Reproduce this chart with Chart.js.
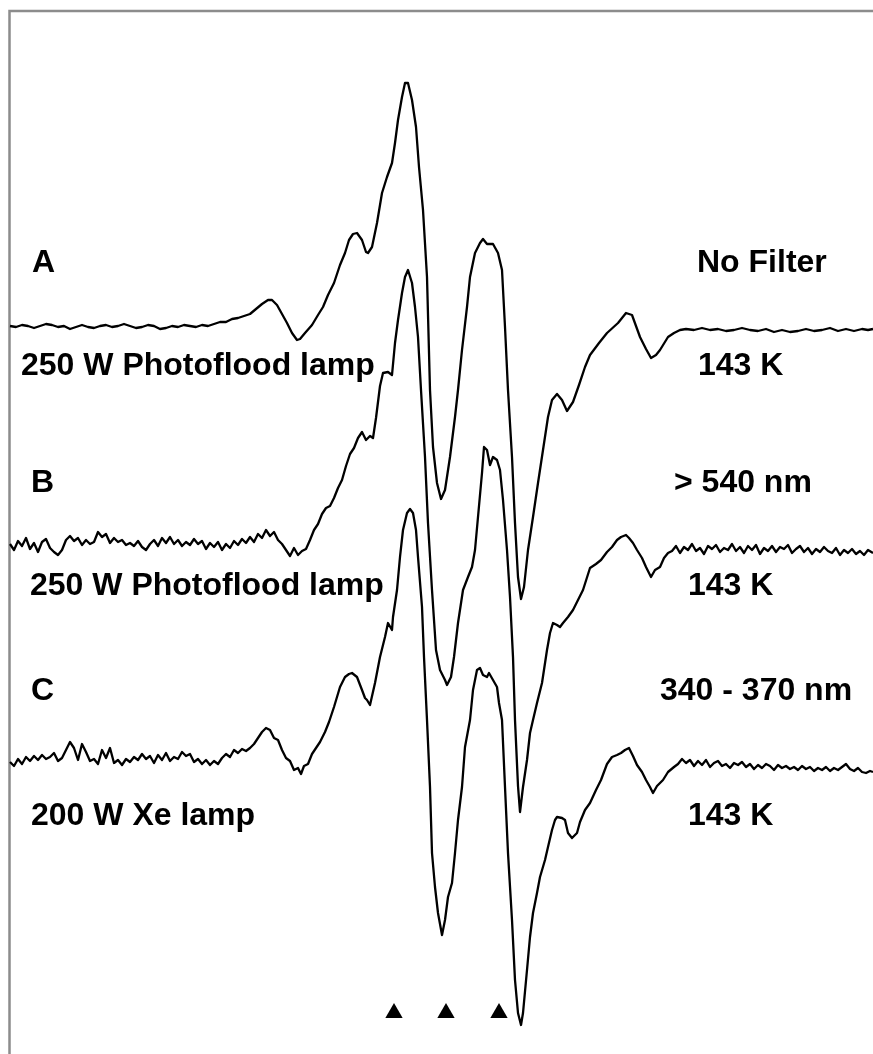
<!DOCTYPE html>
<html lang="en">
<head>
<meta charset="UTF-8">
<title>EPR spectra</title>
<script src="https://cdn.jsdelivr.net/npm/chart.js"></script>
<style>
  html, body { margin: 0; padding: 0; background: #fff; overflow: hidden; }
</style>
</head>
<body>
<canvas id="myChart" width="900" height="1100"></canvas>
<script>
// [field (relative), signal (arb. units, baseline = 0)]
const traceA = [
  [10,1],[16,0],[22,2],[28,1],[34,-1],[40,1],[46,3],[52,2],[58,0],[64,1],[70,-2],[76,0],[82,2],[88,0],
  [94,-1],[100,1],[106,2],[112,0],[118,1],[124,3],[130,1],[136,-1],[142,0],[148,2],[154,1],[160,-2],
  [166,-1],[172,1],[178,0],[184,2],[190,1],[196,0],[202,2],[208,1],[214,3],[220,5],[226,5],[232,8],
  [238,9],[244,11],[250,13],[256,18],[262,23],[268,27],[272,27],[277,22],[282,13],[287,4],[292,-6],
  [297,-13],[300,-12],[305,-6],[312,2],[318,12],[323,20],[328,32],[334,44],[340,62],[345,74],[349,87],
  [353,93],[357,94],[362,87],[366,75],[368,74],[372,80],[377,104],[382,134],[387,150],[392,164],
  [395,184],[398,207],[402,230],[405,244],[408,244],[412,227],[416,200],[419,160],[423,117],[427,50],
  [430,-63],[433,-120],[437,-156],[441,-172],[445,-163],[450,-130],[455,-90],[458,-63],[462,-23],
  [467,20],[470,50],[475,74],[480,84],[483,88],[487,83],[493,83],[498,74],[502,57],[505,0],[508,-63],
  [512,-130],[515,-196],[518,-250],[521,-272],[524,-260],[528,-223],[533,-190],[538,-156],[543,-123],
  [548,-90],[552,-73],[557,-67],[562,-73],[567,-84],[573,-75],[579,-58],[585,-40],[590,-28],[599,-16],
  [607,-6],[618,4],[626,14],[632,12],[640,-10],[646,-22],[651,-31],[656,-28],[660,-23],[668,-10],
  [674,-6],[680,-3],[686,-2],[694,-3],[702,-1],[710,-3],[718,-2],[726,-4],[734,-3],[742,-1],[750,-3],
  [758,-4],[766,-2],[774,-5],[782,-3],[790,-5],[798,-4],[806,-2],[814,-4],[822,-3],[830,-1],[838,-4],
  [846,-2],[854,-4],[862,-2],[868,-3],[873,-2]
];
const traceB = [
  [10,2],[14,-4],[18,5],[22,0],[26,8],[30,-3],[34,3],[38,-6],[42,4],[46,7],[50,-2],[54,-6],[58,-9],
  [62,-4],[66,6],[70,10],[74,5],[78,8],[82,1],[86,6],[90,2],[94,4],[98,14],[102,9],[106,12],[110,3],
  [114,8],[118,4],[122,6],[126,1],[130,3],[134,0],[138,5],[142,-1],[146,-4],[150,2],[154,6],[158,0],
  [162,8],[166,3],[170,9],[174,2],[178,6],[182,0],[186,4],[190,1],[194,7],[198,2],[202,5],[206,-3],
  [210,3],[214,-1],[218,4],[222,-4],[226,2],[230,-2],[234,5],[238,1],[242,7],[246,3],[250,9],[254,4],
  [258,12],[262,8],[266,16],[270,10],[274,14],[278,6],[282,2],[286,-4],[290,-10],[294,-2],[298,-9],
  [302,-5],[306,-3],[310,6],[314,16],[318,22],[322,32],[326,38],[330,40],[334,48],[338,58],[342,66],
  [346,80],[350,92],[354,98],[358,108],[362,114],[366,106],[370,110],[373,108],[376,128],[380,160],
  [383,173],[388,174],[392,171],[395,203],[398,226],[402,253],[405,269],[408,276],[412,263],[415,239],
  [418,209],[421,156],[425,89],[428,23],[432,-44],[436,-104],[440,-124],[445,-134],[447,-139],[451,-131],
  [454,-111],[458,-77],[463,-44],[468,-31],[472,-21],[475,-4],[478,29],[482,73],[484,99],[487,96],
  [490,81],[493,89],[497,86],[500,76],[503,46],[507,-4],[510,-51],[513,-111],[515,-174],[518,-240],
  [520,-266],[523,-241],[527,-214],[530,-187],[533,-174],[537,-157],[542,-137],[547,-104],[550,-87],
  [553,-77],[557,-79],[560,-81],[563,-77],[568,-71],[573,-64],[578,-54],[583,-44],[590,-22],[596,-18],
  [601,-14],[607,-6],[612,-1],[617,6],[621,9],[626,11],[629,8],[633,3],[637,-4],[642,-12],[646,-21],
  [651,-31],[655,-24],[660,-21],[664,-12],[668,-7],[672,-5],[676,0],[680,-7],[684,-1],[688,-4],[692,2],
  [696,-5],[700,-2],[704,-8],[708,0],[712,-3],[716,1],[720,-6],[724,-2],[728,-4],[732,2],[736,-5],
  [740,-1],[744,-7],[748,0],[752,-4],[756,1],[760,-8],[764,-2],[768,-5],[772,0],[776,-6],[780,-1],
  [784,-3],[788,1],[792,-7],[796,-3],[800,0],[804,-6],[808,-2],[812,-8],[816,-3],[820,-6],[824,-1],
  [828,-5],[832,-7],[836,-2],[840,-9],[844,-4],[848,-7],[852,-3],[856,-8],[860,-5],[864,-9],[868,-4],
  [873,-7]
];
const traceC = [
  [10,0],[14,-4],[18,3],[22,-2],[26,5],[30,1],[34,6],[38,2],[42,7],[46,3],[50,5],[54,9],[58,1],[62,4],
  [66,12],[70,20],[74,14],[78,2],[82,18],[86,10],[90,1],[94,3],[98,-2],[102,12],[106,4],[110,14],
  [114,-1],[118,2],[122,-3],[126,3],[130,0],[134,5],[138,2],[142,8],[146,3],[150,6],[154,-1],[158,7],
  [162,2],[166,9],[170,1],[174,5],[178,3],[182,10],[186,6],[190,8],[194,0],[198,3],[202,-2],[206,2],
  [210,-3],[214,1],[218,-2],[222,4],[226,8],[230,5],[234,12],[238,9],[242,13],[246,11],[250,14],
  [254,18],[258,24],[262,30],[266,34],[270,32],[274,24],[278,22],[282,12],[286,4],[290,1],[294,-8],
  [298,-6],[301,-12],[304,-4],[308,-2],[312,8],[316,14],[320,20],[325,30],[329,40],[334,55],[340,75],
  [345,85],[349,88],[352,89],[357,85],[362,72],[365,64],[367,62],[370,57],[375,79],[380,105],[385,125],
  [388,139],[392,132],[393,145],[397,172],[400,205],[403,232],[407,249],[410,253],[413,249],[416,232],
  [418,205],[422,155],[424,105],[427,42],[430,-25],[432,-91],[435,-125],[438,-151],[442,-173],[445,-158],
  [448,-135],[452,-121],[455,-91],[458,-58],[462,-25],[465,15],[470,42],[473,72],[477,92],[480,94],
  [483,87],[487,85],[489,89],[493,82],[497,75],[499,59],[502,42],[505,-25],[508,-91],[512,-158],
  [515,-218],[518,-251],[521,-263],[523,-251],[527,-208],[530,-175],[533,-151],[537,-131],[540,-115],
  [545,-98],[548,-85],[552,-68],[555,-58],[557,-55],[562,-56],[565,-58],[568,-71],[572,-76],[577,-71],
  [580,-60],[585,-48],[590,-41],[596,-28],[601,-18],[607,-2],[612,5],[617,7],[621,9],[625,12],[629,14],
  [633,6],[637,-3],[642,-10],[646,-18],[650,-25],[653,-31],[657,-24],[663,-18],[668,-10],[674,-5],
  [678,-2],[682,3],[686,-1],[690,2],[694,-4],[698,1],[702,-3],[706,2],[710,-5],[714,-1],[718,1],
  [722,-4],[726,-2],[730,-6],[734,-1],[738,-3],[742,0],[746,-5],[750,-2],[754,-7],[758,-3],[762,-6],
  [766,-2],[770,-4],[774,-8],[778,-3],[782,-6],[786,-4],[790,-7],[794,-5],[798,-8],[802,-4],[806,-7],
  [810,-5],[814,-9],[818,-6],[822,-8],[826,-5],[830,-9],[834,-6],[838,-8],[842,-5],[846,-2],[850,-7],
  [854,-9],[858,-6],[862,-10],[866,-11],[870,-9],[873,-10]
];
// vertical stacking of the three spectra
const shifts = [0, -219, -435];
// positions of the three marked lines (triangles)
const markerFields = [394, 446, 499];
const markerLevel = -686;

const leftText  = ["A", "250 W Photoflood lamp", "B", "250 W Photoflood lamp", "C", "200 W Xe lamp"];
const rightText = ["No Filter", "143 K", "> 540 nm", "143 K", "340 - 370 nm", "143 K"];

// where the labels sit, in chart units
const leftSpots  = [[32, 55], [21, -48], [31, -165], [30, -268], [31, -373], [31, -498]];
const rightSpots = [[697, 55], [698, -48], [674, -165], [688, -268], [660, -373], [688, -498]];

let ctx = document.getElementById("myChart");

const frameAndText = {
    id: 'frameAndText',
    beforeDatasetsDraw(chart) {
        const c = chart.ctx, a = chart.chartArea;
        c.save();
        c.strokeStyle = '#8c8c8c';
        c.lineWidth = 2.5;
        c.strokeRect(a.left + 0.5, a.top, a.right - a.left + 50, a.bottom - a.top + 50);
        c.restore();
    },
    afterDraw(chart) {
        const c = chart.ctx, x = chart.scales.x, y = chart.scales.y;
        c.save();
        c.font = 'bold 32px "Liberation Sans", Arial, sans-serif';
        c.fillStyle = '#000';
        c.textBaseline = 'alphabetic';
        c.textAlign = 'left';
        leftText.forEach((t, i) => c.fillText(t, x.getPixelForValue(leftSpots[i][0]), y.getPixelForValue(leftSpots[i][1])));
        rightText.forEach((t, i) => c.fillText(t, x.getPixelForValue(rightSpots[i][0]), y.getPixelForValue(rightSpots[i][1])));
        c.restore();
    }
};

function toPoints(trace, shift) {
    return trace.map(p => ({x: p[0], y: p[1] + shift}));
}

const lineStyle = {borderColor: '#000', borderWidth: 2.3, borderJoinStyle: 'round', pointRadius: 0, tension: 0, fill: false};

let configs = {
    type: 'line',
    data: {
        datasets: [
            {label: 'A', data: toPoints(traceA, shifts[0]), ...lineStyle},
            {label: 'B', data: toPoints(traceB, shifts[1]), ...lineStyle},
            {label: 'C', data: toPoints(traceC, shifts[2]), ...lineStyle},
            {
                label: 'markers', type: 'scatter',
                data: markerFields.map(f => ({x: f, y: markerLevel})),
                pointStyle: 'triangle', pointRadius: 10, borderWidth: 0,
                backgroundColor: '#000', showLine: false
            }
        ]
    },
    options: {
        responsive: false,
        animation: false,
        events: [],
        layout: {autoPadding: false, padding: {left: 9, top: 11, right: 0, bottom: 0}},
        plugins: {legend: {display: false}, tooltip: {enabled: false}},
        scales: {
            x: {type: 'linear', display: false, min: 9, max: 900},
            y: {type: 'linear', display: false, min: -773, max: 316}
        }
    },
    plugins: [frameAndText]
};
let myChart = new Chart(ctx, configs);
</script>
</body>
</html>
